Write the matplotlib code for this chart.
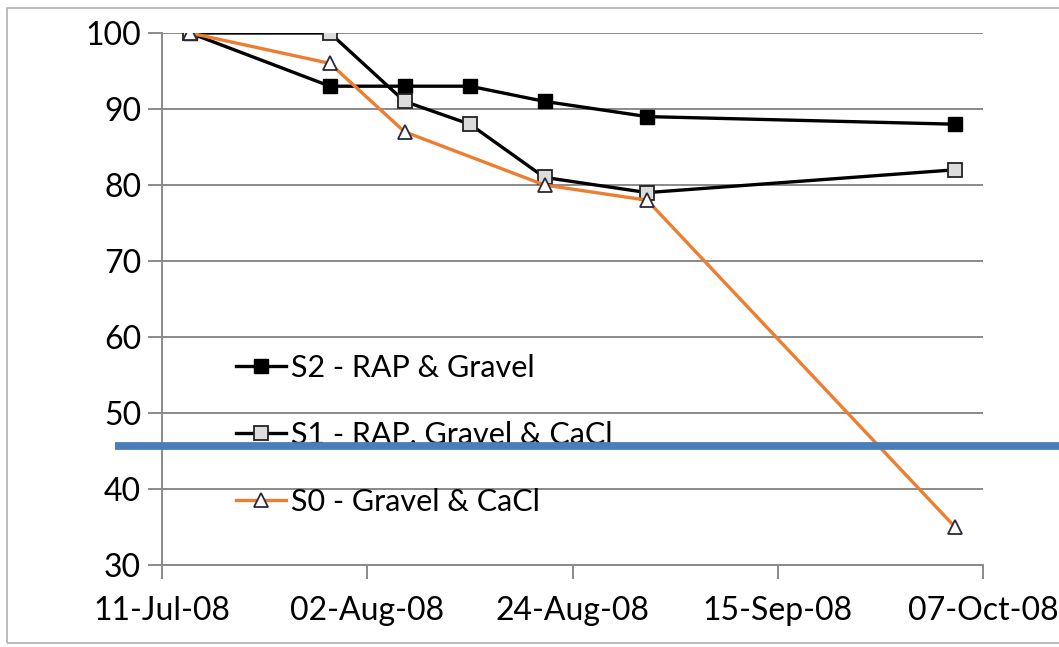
import matplotlib
matplotlib.use("Agg")
import matplotlib.pyplot as plt
import matplotlib.dates as mdates
from matplotlib.patches import Rectangle
from datetime import datetime

plt.rcParams['font.family'] = ['Lato', 'DejaVu Sans']

# Sampling dates
dates_s2 = ["2008-07-14", "2008-07-29", "2008-08-06", "2008-08-13",
            "2008-08-21", "2008-09-01", "2008-10-04"]
dates_s1 = ["2008-07-14", "2008-07-29", "2008-08-06", "2008-08-13",
            "2008-08-21", "2008-09-01", "2008-10-04"]
dates_s0 = ["2008-07-14", "2008-07-29", "2008-08-06",
            "2008-08-21", "2008-09-01", "2008-10-04"]

# Retained percentage per section
s2_values = [100, 93, 93, 93, 91, 89, 88]
s1_values = [100, 100, 91, 88, 81, 79, 82]
s0_values = [100, 96, 87, 80, 78, 35]

series_labels = ["S2 - RAP & Gravel", "S1 - RAP, Gravel & CaCl", "S0 - Gravel & CaCl"]

tick_dates = ["2008-07-11", "2008-08-02", "2008-08-24", "2008-09-15", "2008-10-07"]
y_ticks = [30, 40, 50, 60, 70, 80, 90, 100]
threshold = 45.7


def to_dt(lst):
    return [datetime.strptime(d, "%Y-%m-%d") for d in lst]


W, H = 1059, 647
fig = plt.figure(figsize=(W / 100, H / 100), dpi=100)
fig.patch.set_facecolor("white")

# outer chart border
fig.patches.append(Rectangle((7 / W, 1 - 643 / H), 1.2, (643 - 8) / H,
                             transform=fig.transFigure, fill=False,
                             edgecolor="#b0b0b0", linewidth=1.2))

ax = fig.add_axes([162 / W, 1 - 565 / H, (983 - 162) / W, (565 - 33) / H])

grid_c = "#8a8a8a"
ax.plot(to_dt(dates_s2), s2_values, color="black", lw=2.4, marker="s",
        markersize=10, markerfacecolor="black", markeredgecolor="black",
        label=series_labels[0], zorder=4)
ax.plot(to_dt(dates_s1), s1_values, color="black", lw=2.4, marker="s",
        markersize=10, markerfacecolor="#dcdcdc", markeredgecolor="#222222",
        markeredgewidth=1.3, label=series_labels[1], zorder=5)
ax.plot(to_dt(dates_s0), s0_values, color="#ED7D31", lw=2.4, marker="^",
        markersize=10, markerfacecolor="white", markeredgecolor="#2a2a3a",
        markeredgewidth=1.3, label=series_labels[2], zorder=6)

ax.set_xlim(to_dt(tick_dates)[0], to_dt(tick_dates)[-1])
ax.set_ylim(30, 100)
ax.set_xticks(to_dt(tick_dates))
ax.xaxis.set_major_formatter(mdates.DateFormatter("%d-%b-%y"))
ax.set_yticks(y_ticks)

ax.grid(axis="y", color=grid_c, lw=1.4, zorder=1)
ax.set_axisbelow(True)
for s in ["top", "right"]:
    ax.spines[s].set_visible(False)
for s in ["left", "bottom"]:
    ax.spines[s].set_color(grid_c)
    ax.spines[s].set_linewidth(1.4)

ax.tick_params(axis="both", direction="out", length=10, width=1.4,
               color=grid_c, labelsize=23, labelcolor="black")
ax.tick_params(axis="y", pad=5)
ax.tick_params(axis="x", pad=12)

leg = ax.legend(loc="upper left", bbox_to_anchor=(0.075, 0.42), frameon=False,
                prop={"size": 22}, handlelength=1.65,
                handletextpad=0.15, labelspacing=1.28, borderaxespad=0)

# threshold line extending beyond the plotting area
ax.plot([-0.057, 1.11], [threshold, threshold], color="#4A7EBB", lw=5.6,
        transform=ax.get_yaxis_transform(), clip_on=False, zorder=10,
        solid_capstyle="butt")

fig.savefig("out.png", dpi=100, facecolor="white")
